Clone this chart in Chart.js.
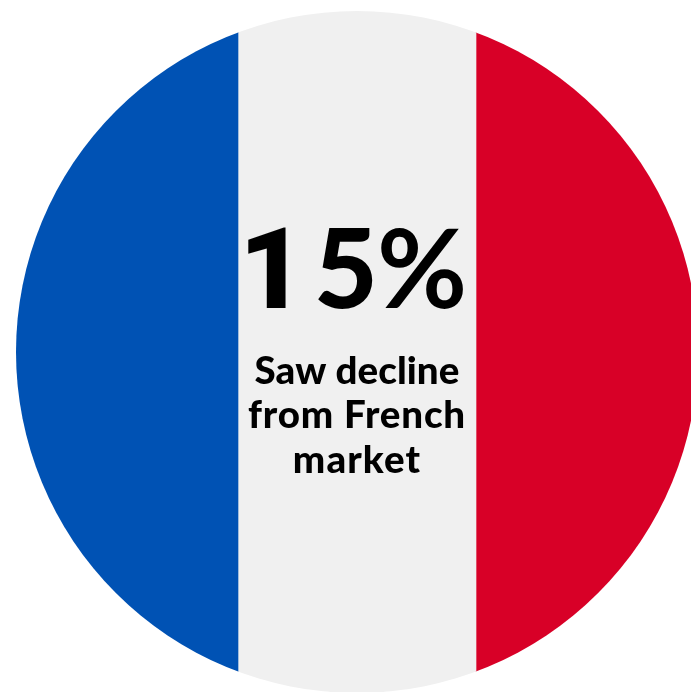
<!DOCTYPE html>
<html>
<head>
<meta charset="utf-8">
<style>
  html, body { margin: 0; padding: 0; background: #fff; overflow: hidden; }
  #wrap { position: relative; width: 691px; height: 692px; }
  canvas { display: block; }
</style>
<script src="https://cdn.jsdelivr.net/npm/chart.js@4/dist/chart.umd.min.js"></script>
</head>
<body>
<div id="wrap"><canvas id="flag" width="691" height="692"></canvas></div>
<script>
// Tricolour roundel: three stacked bands clipped to a circle.
const bandLabels = ['Blue', 'White', 'Red'];
const bandWidths = [222, 238, 222];
const bandColours = ['#0052b4', '#f0f0f0', '#d80027'];
const headlineGlyphs = ['1', '5', '%'];
const captionLines = ['Saw decline', 'from French', 'market'];

const axisStart = -16;
const axisEnd = 675;

const roundelClip = {
  id: 'roundelClip',
  beforeDatasetsDraw(chart) {
    const { ctx, scales } = chart;
    const total = bandWidths.reduce((a, b) => a + b, 0);
    const left = scales.x.getPixelForValue(0);
    const right = scales.x.getPixelForValue(total);
    const r = (right - left) / 2;
    ctx.save();
    ctx.beginPath();
    ctx.arc(left + r, 352, r, 0, Math.PI * 2);
    ctx.clip();
  },
  afterDatasetsDraw(chart) {
    chart.ctx.restore();
  }
};

const roundelText = {
  id: 'roundelText',
  afterDraw(chart) {
    const { ctx } = chart;
    ctx.save();
    ctx.fillStyle = '#000';
    ctx.textAlign = 'center';
    ctx.textBaseline = 'alphabetic';
    // The numeral is set glyph by glyph to hold its tight, open rhythm.
    const glyphFonts = ['900 114px Roboto', '900 110px Lato', '700 110px Lato'];
    const glyphCentres = [272, 346, 422];
    headlineGlyphs.forEach((glyph, i) => {
      ctx.font = glyphFonts[i];
      ctx.fillText(glyph, glyphCentres[i], 308);
    });
    ctx.font = '900 38.5px Lato';
    const baselines = [384, 428, 473];
    const tracking = ['0.05px', '0.8px', '1.1px'];
    captionLines.forEach((line, i) => {
      ctx.letterSpacing = tracking[i];
      ctx.fillText(line, 357, baselines[i]);
    });
    ctx.restore();
  }
};

new Chart(document.getElementById('flag'), {
  type: 'bar',
  data: {
    labels: ['Flag'],
    datasets: bandLabels.map((label, i) => ({
      label,
      data: [bandWidths[i]],
      backgroundColor: bandColours[i],
      borderWidth: 0,
      barPercentage: 1,
      categoryPercentage: 1
    }))
  },
  options: {
    indexAxis: 'y',
    responsive: false,
    animation: false,
    layout: { padding: 0 },
    plugins: { legend: { display: false }, tooltip: { enabled: false } },
    scales: {
      x: { type: 'linear', stacked: true, min: axisStart, max: axisEnd, display: false },
      y: { stacked: true, display: false }
    }
  },
  plugins: [roundelClip, roundelText]
});
</script>
</body>
</html>
